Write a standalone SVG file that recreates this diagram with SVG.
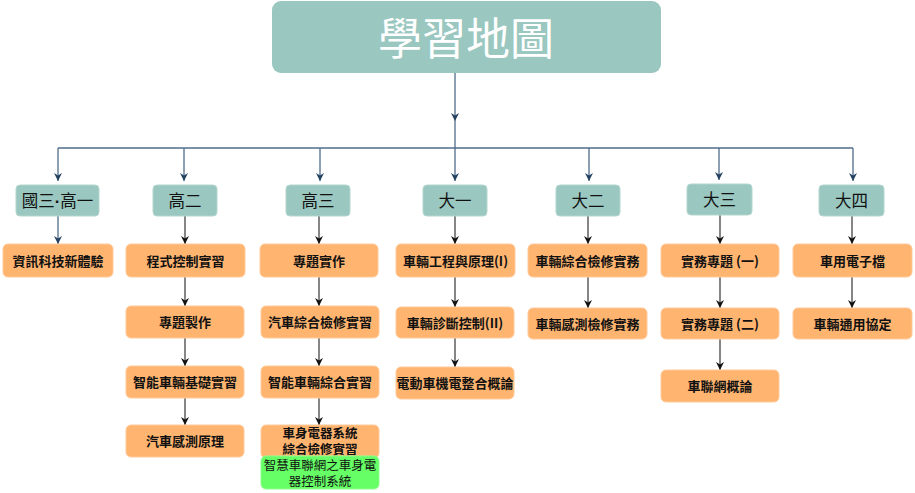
<svg xmlns="http://www.w3.org/2000/svg" width="915" height="493" viewBox="0 0 915 493">
<style>
text{font-family:"Noto Sans CJK TC","Noto Sans CJK SC",sans-serif;text-anchor:middle;}
.title{fill:#9ac7bf;}
.head{fill:#9ac7bf;stroke:#b4d6cf;stroke-width:1;}
.node{fill:#ffb570;stroke:#ffc99a;stroke-width:1;}
.green{fill:#66ff66;stroke:#8cff8c;stroke-width:1;}
.tt{font-size:44px;fill:#ffffff;}
.ht{font-size:16.5px;fill:#111111;}
.nt{font-size:13px;fill:#111111;font-weight:bold;}
.st{font-size:12.5px;fill:#111111;font-weight:bold;}
.gt{font-size:12.5px;fill:#111111;}
.dot{font-family:"Liberation Sans",sans-serif;font-weight:bold;}
.bus{fill:none;stroke:#4f6d8a;stroke-width:1.3;}
.col{fill:none;stroke:#444444;stroke-width:1.3;}
</style>
<defs>
<marker id="ab" viewBox="0 0 10 10" refX="10" refY="5" markerWidth="9" markerHeight="8" markerUnits="userSpaceOnUse" orient="auto">
<path d="M0,0 L10,5 L0,10 L3,5 z" fill="#23405e"/>
</marker>
<marker id="ak" viewBox="0 0 10 10" refX="10" refY="5" markerWidth="9" markerHeight="8" markerUnits="userSpaceOnUse" orient="auto">
<path d="M0,0 L10,5 L0,10 L3,5 z" fill="#111111"/>
</marker>
</defs>

<g id="connectors">
<path class="bus" d="M455,73 L455,121 L455,148" marker-mid="url(#ab)"/>
<path class="bus" d="M58,148 H853"/>
<path class="bus" d="M58,148 V181" marker-end="url(#ab)"/>
<path class="bus" d="M184,148 V181" marker-end="url(#ab)"/>
<path class="bus" d="M320,148 V181" marker-end="url(#ab)"/>
<path class="bus" d="M455,148 V181" marker-end="url(#ab)"/>
<path class="bus" d="M589,148 V181" marker-end="url(#ab)"/>
<path class="bus" d="M719,148 V180" marker-end="url(#ab)"/>
<path class="bus" d="M853,148 V181" marker-end="url(#ab)"/>

<path class="bus" d="M58,216 V244" marker-end="url(#ab)"/>
<path class="col" d="M185,216 V244" marker-end="url(#ak)"/>
<path class="col" d="M319,216 V244" marker-end="url(#ak)"/>
<path class="col" d="M455,216 V244" marker-end="url(#ak)"/>
<path class="col" d="M588,216 V244" marker-end="url(#ak)"/>
<path class="col" d="M720,215 V244" marker-end="url(#ak)"/>
<path class="col" d="M852,216 V244" marker-end="url(#ak)"/>

<path class="col" d="M185,277 V306" marker-end="url(#ak)"/>
<path class="col" d="M185,338 V366" marker-end="url(#ak)"/>
<path class="col" d="M185,398 V425" marker-end="url(#ak)"/>
<path class="col" d="M319,277 V306" marker-end="url(#ak)"/>
<path class="col" d="M319,338 V366" marker-end="url(#ak)"/>
<path class="col" d="M319,398 V425" marker-end="url(#ak)"/>
<path class="col" d="M455,277 V307" marker-end="url(#ak)"/>
<path class="col" d="M455,338 V367" marker-end="url(#ak)"/>
<path class="col" d="M588,277 V308" marker-end="url(#ak)"/>
<path class="col" d="M720,277 V308" marker-end="url(#ak)"/>
<path class="col" d="M720,339 V370" marker-end="url(#ak)"/>
<path class="col" d="M852,277 V308" marker-end="url(#ak)"/>
</g>

<g id="title"><rect class="title" x="272" y="1" width="389" height="72" rx="9"/><text class="tt" x="466" y="55">學習地圖</text></g>

<g id="h1"><rect class="head" x="16" y="185" width="83" height="31" rx="4"/><text class="ht" x="57.5" y="207">國三<tspan class="dot">·</tspan>高一</text></g>
<g id="h2"><rect class="head" x="153" y="185" width="64" height="31" rx="4"/><text class="ht" x="185" y="207">高二</text></g>
<g id="h3"><rect class="head" x="286" y="185" width="64" height="31" rx="4"/><text class="ht" x="318" y="207">高三</text></g>
<g id="h4"><rect class="head" x="423" y="185" width="64" height="31" rx="4"/><text class="ht" x="455" y="207">大一</text></g>
<g id="h5"><rect class="head" x="556" y="185" width="64" height="31" rx="4"/><text class="ht" x="588" y="207">大二</text></g>
<g id="h6"><rect class="head" x="687" y="184" width="65" height="31" rx="4"/><text class="ht" x="719.5" y="206">大三</text></g>
<g id="h7"><rect class="head" x="819" y="185" width="65" height="31" rx="4"/><text class="ht" x="851.5" y="207">大四</text></g>

<g id="n1a"><rect class="node" x="3" y="244" width="110" height="33" rx="5"/><text class="nt" x="58" y="266">資訊科技新體驗</text></g>

<g id="n2a"><rect class="node" x="126" y="244" width="119" height="33" rx="5"/><text class="nt" x="185.5" y="266">程式控制實習</text></g>
<g id="n2b"><rect class="node" x="126" y="306" width="118" height="32" rx="5"/><text class="nt" x="185" y="327">專題製作</text></g>
<g id="n2c"><rect class="node" x="126" y="366" width="118" height="32" rx="5"/><text class="nt" x="185" y="387">智能車輛基礎實習</text></g>
<g id="n2d"><rect class="node" x="126" y="425" width="118" height="32" rx="5"/><text class="nt" x="185" y="446">汽車感測原理</text></g>

<g id="n3a"><rect class="node" x="260" y="244" width="118" height="33" rx="5"/><text class="nt" x="319" y="266">專題實作</text></g>
<g id="n3b"><rect class="node" x="261" y="306" width="118" height="32" rx="5"/><text class="nt" x="320" y="327">汽車綜合檢修實習</text></g>
<g id="n3c"><rect class="node" x="261" y="366" width="118" height="32" rx="5"/><text class="nt" x="320" y="387">智能車輛綜合實習</text></g>
<g id="n3d"><rect class="node" x="261" y="425" width="118" height="33" rx="5"/><text class="st" x="320" y="438">車身電器系統</text><text class="st" x="320" y="454">綜合檢修實習</text></g>
<g id="n3e"><rect class="green" x="261" y="456" width="118" height="33" rx="5"/><text class="gt" x="320" y="470">智慧車聯網之車身電</text><text class="gt" x="320" y="486">器控制系統</text></g>

<g id="n4a"><rect class="node" x="396" y="244" width="119" height="33" rx="5"/><text class="nt" x="455.5" y="266">車輛工程與原理(I)</text></g>
<g id="n4b"><rect class="node" x="396" y="307" width="118" height="31" rx="5"/><text class="nt" x="455" y="327.5">車輛診斷控制(II)</text></g>
<g id="n4c"><rect class="node" x="396" y="367" width="118" height="32" rx="5"/><text class="nt" x="455" y="388">電動車機電整合概論</text></g>

<g id="n5a"><rect class="node" x="528" y="244" width="119" height="33" rx="5"/><text class="nt" x="587.5" y="266">車輛綜合檢修實務</text></g>
<g id="n5b"><rect class="node" x="528" y="308" width="119" height="31" rx="5"/><text class="nt" x="587.5" y="328.5">車輛感測檢修實務</text></g>

<g id="n6a"><rect class="node" x="661" y="244" width="118" height="33" rx="5"/><text class="nt" x="720" y="266">實務專題 (一)</text></g>
<g id="n6b"><rect class="node" x="661" y="308" width="118" height="31" rx="5"/><text class="nt" x="720" y="328.5">實務專題 (二)</text></g>
<g id="n6c"><rect class="node" x="661" y="370" width="118" height="32" rx="5"/><text class="nt" x="720" y="391">車聯網概論</text></g>

<g id="n7a"><rect class="node" x="793" y="244" width="119" height="33" rx="5"/><text class="nt" x="852.5" y="266">車用電子檔</text></g>
<g id="n7b"><rect class="node" x="793" y="308" width="119" height="31" rx="5"/><text class="nt" x="852.5" y="328.5">車輛通用協定</text></g>
</svg>
